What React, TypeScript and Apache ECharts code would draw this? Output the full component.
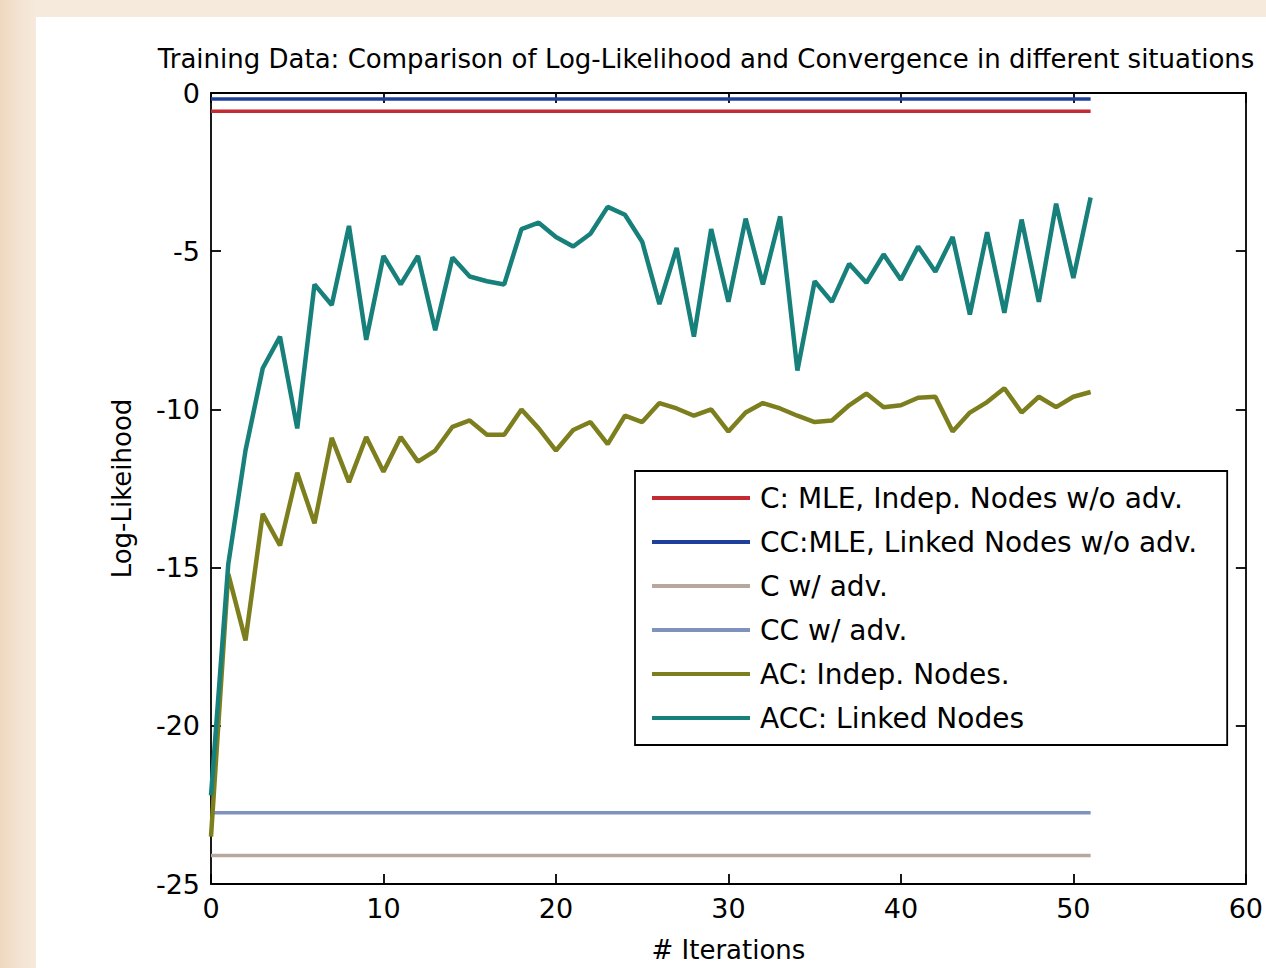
import React, { useEffect, useRef } from "react";
import * as echarts from "echarts";

const titleText =
  "Training Data: Comparison of Log-Likelihood and Convergence in different situations";
const xAxisName = "# Iterations";
const yAxisName = "Log-Likeihood";

const xMin = 0;
const xMax = 60;
const xStep = 10;
const yMin = -25;
const yMax = 0;
const yStep = 5;

const seriesNames = [
  "C: MLE, Indep. Nodes w/o adv.",
  "CC:MLE, Linked Nodes w/o adv.",
  "C w/ adv.",
  "CC w/ adv.",
  "AC: Indep. Nodes.",
  "ACC: Linked Nodes",
];
const seriesColors = ["#c42a32", "#1f3f9c", "#b8a79c", "#7f92bd", "#7d7f1e", "#17807b"];

// flat reference lines: start and end iteration
const flatSpan = [0, 51];
const cMleValue = -0.58;
const ccMleValue = -0.19;
const cAdvValue = -24.1;
const ccAdvValue = -22.75;

const acValues = [
  -23.5, -15.2, -17.3, -13.3, -14.3, -12.0, -13.6, -10.9, -12.3, -10.87, -11.97, -10.87, -11.65,
  -11.3, -10.55, -10.35, -10.8, -10.8, -10.0, -10.6, -11.3, -10.65, -10.4, -11.1, -10.2, -10.4,
  -9.8, -9.97, -10.2, -10.0, -10.7, -10.1, -9.8, -9.97, -10.2, -10.4, -10.35, -9.87, -9.5, -9.93,
  -9.87, -9.63, -9.6, -10.7, -10.1, -9.77, -9.33, -10.1, -9.6, -9.93, -9.6, -9.45,
];

const accValues = [
  -22.2, -14.9, -11.3, -8.7, -7.7, -10.6, -6.05, -6.7, -4.2, -7.8, -5.15, -6.05, -5.15, -7.5,
  -5.2, -5.8, -5.95, -6.05, -4.3, -4.1, -4.55, -4.85, -4.45, -3.6, -3.85, -4.7, -6.67, -4.9,
  -7.7, -4.3, -6.6, -3.97, -6.05, -3.9, -8.77, -5.95, -6.6, -5.4, -6.0, -5.1, -5.9, -4.85, -5.65,
  -4.55, -7.0, -4.4, -6.95, -4.0, -6.6, -3.5, -5.85, -3.3,
];

const FONT = "'DejaVu Sans', 'Liberation Sans', sans-serif";

export default function App() {
  const ref = useRef<HTMLDivElement>(null);

  useEffect(() => {
    if (!ref.current) return;
    const chart = echarts.init(ref.current, undefined, { renderer: "svg" });

    const flat = (v: number) => flatSpan.map((x) => [x, v]);
    const curve = (vals: number[]) => vals.map((v, i) => [i, v]);
    const datas = [
      flat(cMleValue),
      flat(ccMleValue),
      flat(cAdvValue),
      flat(ccAdvValue),
      curve(acValues),
      curve(accValues),
    ];
    const widths = [3.5, 3.5, 3.5, 3.5, 4.5, 4.5];

    const axisLine = { show: true, onZero: false, lineStyle: { color: "#000", width: 1.8 } };
    const axisTick = { show: true, inside: true, length: 10, lineStyle: { color: "#000", width: 1.8 } };

    chart.setOption({
      animation: false,
      backgroundColor: "transparent",
      grid: { left: 211, top: 93, width: 1037, height: 800, containLabel: false },
      graphic: [
        {
          type: "text",
          x: 706,
          y: 59,
          style: {
            text: titleText,
            textAlign: "center",
            textVerticalAlign: "middle",
            fontFamily: FONT,
            fontSize: 26,
            fill: "#000",
          },
        },
      ],
      xAxis: [
        {
          type: "value",
          min: xMin,
          max: xMax,
          interval: xStep,
          position: "bottom",
          axisLine,
          axisTick,
          splitLine: { show: false },
          axisLabel: { color: "#000", fontFamily: FONT, fontSize: 27, margin: 11 },
          name: xAxisName,
          nameLocation: "middle",
          nameGap: 53,
          nameTextStyle: { color: "#000", fontFamily: FONT, fontSize: 26 },
        },
        {
          type: "value",
          min: xMin,
          max: xMax,
          interval: xStep,
          position: "top",
          axisLine,
          axisTick,
          splitLine: { show: false },
          axisLabel: { show: false },
        },
      ],
      yAxis: [
        {
          type: "value",
          min: yMin,
          max: yMax,
          interval: yStep,
          position: "left",
          axisLine,
          axisTick,
          splitLine: { show: false },
          axisLabel: { color: "#000", fontFamily: FONT, fontSize: 27, margin: 11 },
          name: yAxisName,
          nameLocation: "middle",
          nameRotate: 90,
          nameGap: 76,
          nameTextStyle: { color: "#000", fontFamily: FONT, fontSize: 26 },
        },
        {
          type: "value",
          min: yMin,
          max: yMax,
          interval: yStep,
          position: "right",
          axisLine,
          axisTick,
          splitLine: { show: false },
          axisLabel: { show: false },
        },
      ],
      legend: {
        orient: "vertical",
        left: 635,
        top: 471,
        data: seriesNames,
        icon: "rect",
        itemWidth: 98,
        itemHeight: 4,
        itemGap: 14,
        padding: [12, 30, 12, 17],
        borderColor: "#000",
        borderWidth: 1.8,
        backgroundColor: "#fff",
        selectedMode: false,
        textStyle: {
          color: "#000",
          fontFamily: FONT,
          fontSize: 28,
          lineHeight: 30,
          padding: [0, 0, 0, 5],
        },
      },
      series: seriesNames.map((name, k) => ({
        name,
        type: "line",
        data: datas[k],
        symbol: "none",
        showSymbol: false,
        color: seriesColors[k],
        itemStyle: { color: seriesColors[k] },
        lineStyle: { color: seriesColors[k], width: widths[k] },
        z: 2 + k,
      })),
    });

    return () => chart.dispose();
  }, []);

  return (
    <div
      style={{
        position: "fixed",
        left: 0,
        top: 0,
        width: 1266,
        height: 968,
        overflow: "hidden",
        background: "linear-gradient(to right, #efd8c0 0px, #f3e2d0 18px, #f6eadd 36px, #f6eadd 100%)",
      }}
    >
      <div
        style={{
          position: "absolute",
          left: 36,
          top: 17,
          right: 0,
          bottom: 0,
          background: "#ffffff",
        }}
      />
      <div ref={ref} style={{ position: "absolute", left: 0, top: 0, width: 1266, height: 968 }} />
    </div>
  );
}
